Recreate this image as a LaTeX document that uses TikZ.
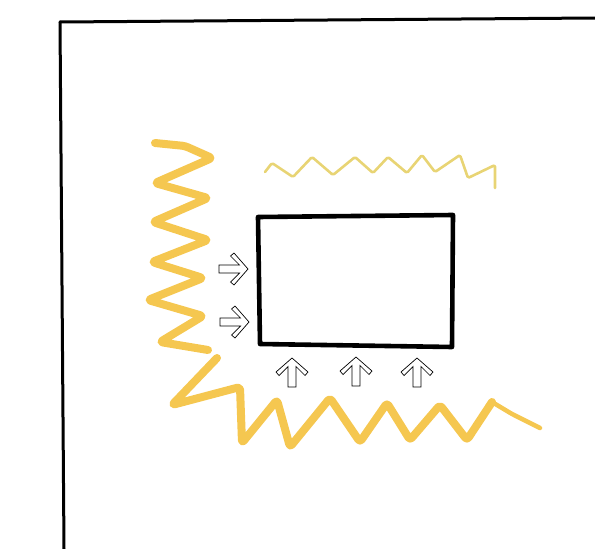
\documentclass[tikz,border=0pt]{standalone}
\usepackage{xcolor}
\usepackage{tikz}
\usetikzlibrary{calc}

\definecolor{heatgold}{RGB}{245,199,80}
\definecolor{heatpale}{RGB}{232,212,116}

\begin{document}
\begin{tikzpicture}[
    x=1pt, y=-1pt,
    frameline/.style={draw=black, line width=3pt, line cap=round},
    bigbox/.style={draw=black, line width=4.6pt, line join=round},
    heatthick/.style={draw=heatgold, line width=8pt, line cap=round, line join=round, rounded corners=3pt},
    heatthin/.style={draw=heatpale, line width=2.6pt, line cap=round, line join=round, rounded corners=1.5pt},
    openarrow/.pic={
        \draw[line width=0.7pt, line join=miter, fill=white]
            (0,0) -- (-14,-16) -- (-17.5,-13) -- (-8.5,-4) -- (-29,-4)
            -- (-29,4) -- (-8.5,4) -- (-17.5,13) -- (-14,16) -- cycle;
    }
]
\useasboundingbox (0,0) rectangle (595,549);

% Corner of the wall
\coordinate (corner) at (60,22);
\draw[frameline] (corner) -- (595,18);
\draw[frameline] (corner) -- (64,549);

% Block
\draw[bigbox] (258,217) -- (453,215) -- (452,347) -- (260,344) -- cycle;

% Heat from the left
\draw[heatthick] (155,143) -- (185,146) -- (212,158) -- (155,183) -- (208,198)
    -- (153,222) -- (208,240) -- (152,262) -- (203,278) -- (148,300)
    -- (203,316) -- (160,342) -- (208,350);

% Heat from below
\draw[heatthick] (217,358) -- (172,405) -- (240,387) -- (242,443) -- (277,400)
    -- (290,447) -- (330,398) -- (360,442) -- (387,403) -- (410,440)
    -- (440,405) -- (467,440) -- (492,402);
\draw[heatthick, line width=4.5pt] (492,402) -- (512,414) -- (540,428);

% Heat above
\draw[heatthin] (265,172) -- (272,163) -- (293,177) -- (312,157) -- (333,175)
    -- (355,157) -- (373,173) -- (388,157) -- (407,173) -- (422,155)
    -- (435,172) -- (460,155) -- (468,178) -- (495,165) -- (495,188);

% Arrows into the block
\pic at (248,269) {openarrow};
\pic at (249,322) {openarrow};
\pic[rotate=90] at (292,358) {openarrow};
\pic[rotate=90] at (356,357) {openarrow};
\pic[rotate=90] at (417,358) {openarrow};

\end{tikzpicture}
\end{document}
